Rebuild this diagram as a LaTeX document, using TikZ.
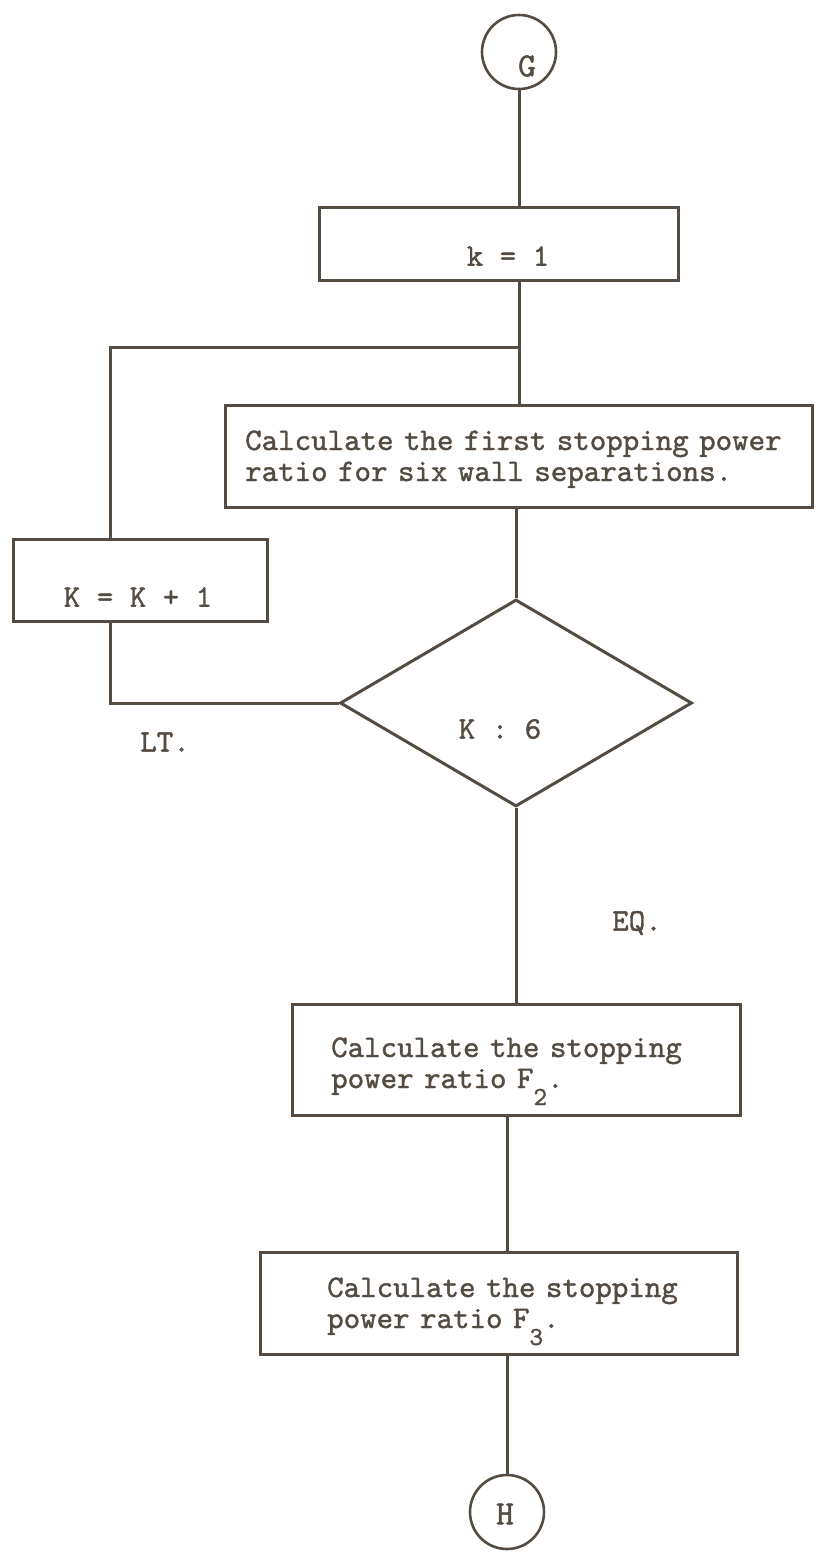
\documentclass[tikz,border=0pt]{standalone}
\usepackage{fontspec}
\newfontfamily\tw{lmmono10-regular.otf}[FakeBold=1.2]
\usetikzlibrary{shapes.geometric}
\definecolor{ink}{RGB}{84,76,66}
\begin{document}
\begin{tikzpicture}[x=1pt,y=-1pt,
  box/.style={draw=ink, line width=3pt, rectangle, inner sep=0pt},
  conn/.style={draw=ink, line width=3pt},
  txt/.style={text=ink, font=\fontsize{31.4}{31}\selectfont\tw, inner sep=0pt},
  para/.style={txt, text width=590pt, align=left, anchor=base west},
  circletxt/.style={text=ink, font=\fontsize{34}{34}\selectfont\tw, inner sep=0pt},
  conncircle/.style={draw=ink, line width=2.6pt, circle, minimum size=74pt, inner sep=0pt}]
\useasboundingbox (0,0) rectangle (817,1554);
% connectors (circles)
\node[conncircle] (G) at (519,52) {};
\node[circletxt] (Gt) at (527,66) {G};
\node[conncircle] (H) at (507,1512) {};
\node[circletxt] (Ht) at (505,1514) {H};
% boxes
\node[box, minimum width=359pt, minimum height=72pt] (k1) at (498.5,244) {};
\node[txt] (k1t) at (508,256) {k = 1};
\node[box, minimum width=587pt, minimum height=102pt] (calc) at (518.5,456) {};
\node[para] (calct) at (245,450) {Calculate the first stopping power\\ratio for six wall separations.};
\node[box, minimum width=254pt, minimum height=82pt] (kk) at (140,580) {};
\node[txt] (kkt) at (138,597) {K = K + 1};
\node[draw=ink, line width=3pt, diamond, inner sep=0pt, minimum width=352pt, minimum height=207pt] (dia) at (516,703) {};
\node[txt] (diat) at (500,729) {K : 6};
\node[txt] (lt) at (165,742) {LT.};
\node[txt] (eq) at (637,923) {EQ.};
\node[box, minimum width=448pt, minimum height=111pt] (F2) at (516,1059.5) {};
\node[para] (F2t) at (331,1057) {Calculate the stopping\\power ratio F\raisebox{-17pt}{\fontsize{26}{26}\selectfont 2}.};
\node[box, minimum width=477pt, minimum height=102pt] (F3) at (498.5,1303) {};
\node[para] (F3t) at (327,1297) {Calculate the stopping\\power ratio F\raisebox{-17pt}{\fontsize{26}{26}\selectfont 3}.};
% connectors
\coordinate (j) at (519,347);
\coordinate (lp) at (110,347);
\draw[conn] (G.south) -- (G.south |- k1.north);
\draw[conn] (G.south |- k1.south) -- (G.south |- calc.north);
\draw[conn] (j) -- (lp) -- (lp |- kk.north);
\draw[conn] (lp |- kk.south) -- (lp |- dia.west) -- (dia.west);
\draw[conn] (dia.north |- calc.south) -- (dia.north);
\draw[conn] (dia.south) -- (dia.south |- F2.north);
\draw[conn] (H.north |- F2.south) -- (H.north |- F3.north);
\draw[conn] (H.north |- F3.south) -- (H.north);
\end{tikzpicture}
\end{document}
